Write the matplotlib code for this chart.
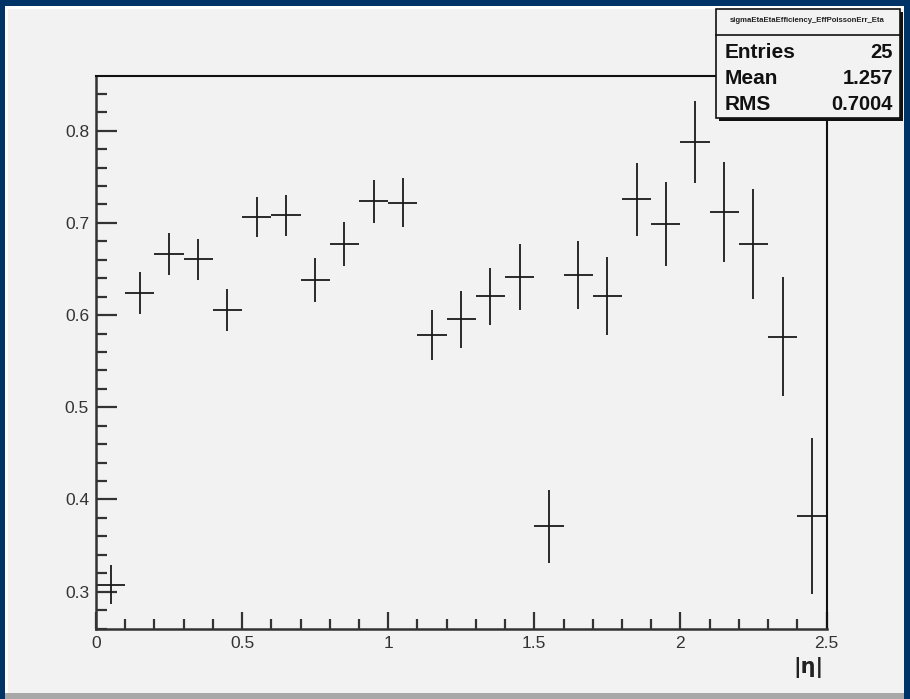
import matplotlib
matplotlib.use("Agg")
import matplotlib.pyplot as plt
from matplotlib.patches import Rectangle
from matplotlib.ticker import MultipleLocator, FuncFormatter
import numpy as np

# Efficiency per |eta| bin (bin width 0.1) with Poisson errors
bin_lo = 0.0
bin_width = 0.1
eff = [0.3076, 0.6243, 0.6662, 0.6604, 0.6051, 0.7063, 0.7081, 0.6376, 0.6774, 0.7233,
       0.7219, 0.5787, 0.5953, 0.6206, 0.6416, 0.3708, 0.6434, 0.6203, 0.7255, 0.6984,
       0.7881, 0.7117, 0.6774, 0.5766, 0.3820]
eff_err = [0.0208, 0.0226, 0.0230, 0.0226, 0.0228, 0.0220, 0.0226, 0.0239, 0.0237, 0.0237,
           0.0266, 0.0272, 0.0313, 0.0310, 0.0360, 0.0398, 0.0370, 0.0424, 0.0398, 0.0456,
           0.0445, 0.0540, 0.0597, 0.0643, 0.0843]

hist_name = "sigmaEtaEtaEfficiency_EffPoissonErr_Eta"
stat_labels = ["Entries", "Mean", "RMS"]
stat_values = ["25", "1.257", "0.7004"]
x_label = "|\u03b7|"

W, H = 910, 699
fig = plt.figure(figsize=(W / 100, H / 100), dpi=100)
fig.patch.set_facecolor("#003366")


def px(x, y):
    """pixel position (from top-left) -> figure fraction"""
    return x / W, 1 - y / H


def rect_px(x0, y0, x1, y1, **kw):
    fx0, fy1 = px(x0, y0)
    fx1, fy0 = px(x1, y1)
    r = Rectangle((fx0, fy0), fx1 - fx0, fy1 - fy0, transform=fig.transFigure, **kw)
    fig.add_artist(r)
    return r


# canvas bevel: light edge top/left, dark strip at the bottom, grey body
rect_px(5, 6, 904, 699, facecolor="#a8a8a8", edgecolor="none", zorder=0)
rect_px(5, 6, 904, 693, facecolor="#ffffff", edgecolor="none", zorder=0)
rect_px(8, 9, 904, 693, facecolor="#f2f2f2", edgecolor="none", zorder=0)

l, t = px(96, 75.5)
r, b = px(826.5, 629)
ax = fig.add_axes([l, b, r - l, t - b])
ax.set_facecolor("#f2f2f2")

centers = bin_lo + bin_width * (np.arange(len(eff)) + 0.5)
ax.errorbar(centers, eff, yerr=eff_err, xerr=bin_width / 2, fmt="none",
            ecolor="#1a1a1a", elinewidth=1.3, capsize=0)

ax.set_xlim(0, 2.5)
ax.set_ylim(0.2595, 0.8599)

for side in ["left", "bottom"]:
    ax.spines[side].set_linewidth(1.8)
    ax.spines[side].set_color("#333333")
for side in ["top", "right"]:
    ax.spines[side].set_linewidth(1.5)
    ax.spines[side].set_color("#111111")

ax.xaxis.set_major_locator(MultipleLocator(0.5))
ax.xaxis.set_minor_locator(MultipleLocator(0.1))
ax.yaxis.set_major_locator(MultipleLocator(0.1))
ax.yaxis.set_minor_locator(MultipleLocator(0.02))
fmt = FuncFormatter(lambda v, p: "%g" % round(v, 3))
ax.xaxis.set_major_formatter(fmt)
ax.yaxis.set_major_formatter(fmt)

ax.tick_params(axis="y", which="major", direction="in", length=15, width=1.6,
               color="#333333", labelsize=12.5, labelcolor="#333333", pad=5)
ax.tick_params(axis="y", which="minor", direction="in", length=8, width=1.6, color="#333333")
ax.tick_params(axis="x", which="major", direction="in", length=12, width=1.6,
               color="#333333", labelsize=12.5, labelcolor="#333333", pad=5)
ax.tick_params(axis="x", which="minor", direction="in", length=7, width=1.6, color="#333333")
for lab in ax.get_xticklabels() + ax.get_yticklabels():
    lab.set_family("Liberation Sans")

fx, fy = px(824, 668)
fig.text(fx, fy, x_label, ha="right", va="center", fontsize=15, fontweight="bold",
         family="DejaVu Sans", color="#222222")

# statistics box with drop shadow
rect_px(719, 12, 903, 121, facecolor="#111111", edgecolor="none", zorder=5)
rect_px(716, 9, 900, 118, facecolor="#f2f2f2", edgecolor="#111111", linewidth=1.2, zorder=6)
sx0, sy = px(716, 35)
sx1, _ = px(900, 35)
fig.add_artist(plt.Line2D([sx0, sx1], [sy, sy], transform=fig.transFigure,
                          color="#111111", linewidth=1.2, zorder=7))
tx, ty = px(807, 21)
fig.text(tx, ty, hist_name, ha="center", va="center", fontsize=5.6,
         family="Liberation Sans", fontweight="bold", color="#222222", zorder=8)
row_y = [52, 79, 104]
for lab, val, y in zip(stat_labels, stat_values, row_y):
    lx, ly = px(725, y)
    vx, _ = px(893, y)
    fig.text(lx, ly, lab, ha="left", va="center", fontsize=15, fontweight="bold",
             family="Liberation Sans", color="#111111", zorder=8)
    fig.text(vx, ly, val, ha="right", va="center", fontsize=14.5, fontweight="bold",
             family="Liberation Sans", color="#111111", zorder=8)

fig.savefig("out.png", dpi=100, facecolor=fig.get_facecolor())
